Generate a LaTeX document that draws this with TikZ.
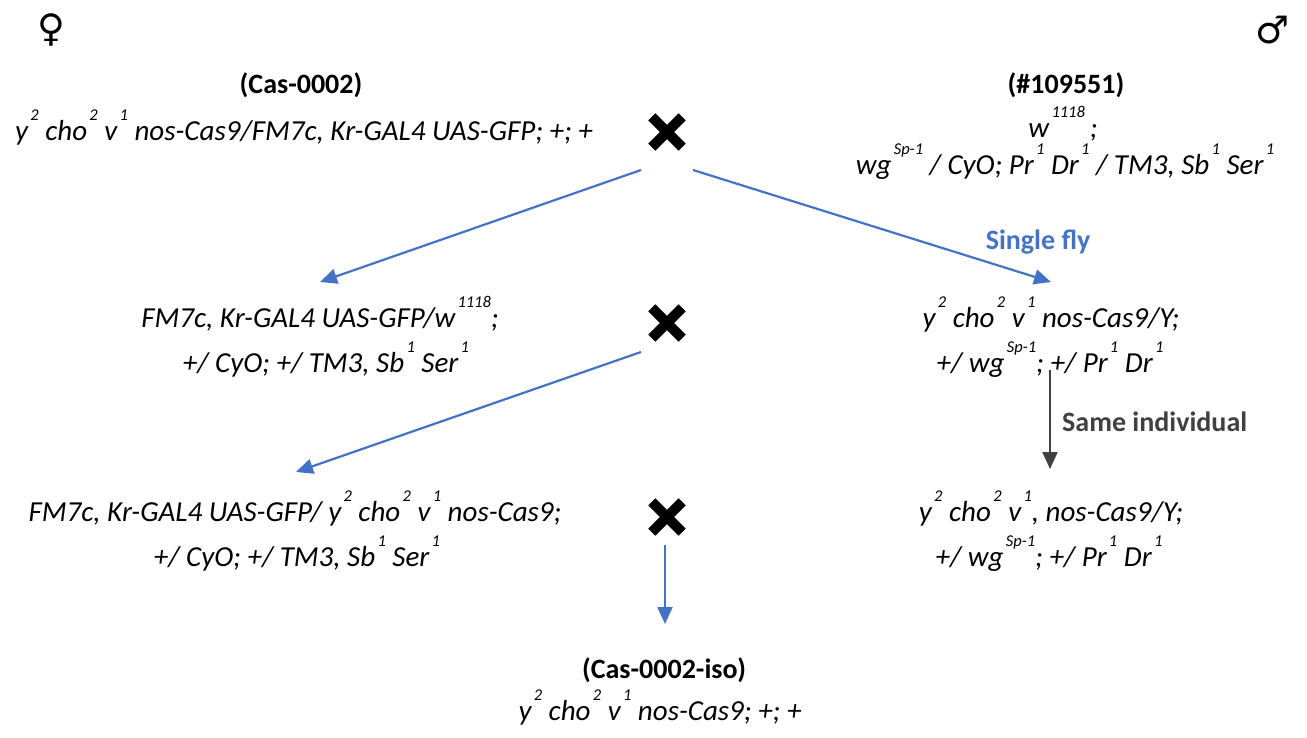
\documentclass[tikz,border=0pt]{standalone}
\usepackage{fontspec}
\setmainfont{Carlito}
\newfontfamily\symfont{DejaVu Sans}
\usetikzlibrary{arrows.meta}
\definecolor{flowblue}{HTML}{4472C4}
\definecolor{darkgrey}{HTML}{404040}
% raised allele superscript
\newcommand\spx[1]{\hspace{0.08em}\raisebox{0.68em}{\fontsize{16.5}{16.5}\selectfont #1}}
\tikzset{
  geno/.style={anchor=base, inner sep=0pt, font=\fontsize{29}{34}\selectfont\itshape},
  head/.style={anchor=base, inner sep=0pt, font=\fontsize{28}{34}\selectfont\bfseries},
  sexsym/.style={inner sep=0pt, font=\fontsize{38}{38}\selectfont\symfont},
  crossmark/.style={minimum width=30pt, minimum height=30pt, inner sep=0pt},
  crossline/.style={line width=10pt, line cap=butt},
  bluearrow/.style={flowblue, line width=2.2pt, -{Triangle[length=17pt,width=15pt]}},
  greyarrow/.style={darkgrey, line width=2.2pt, -{Triangle[length=17pt,width=15pt]}},
  armlabel/.style={anchor=base, inner sep=0pt, font=\fontsize{28}{34}\selectfont\bfseries},
}
\begin{document}
\begin{tikzpicture}[x=1pt, y=-1pt]
\useasboundingbox (0,0) rectangle (1307,737);

% sexes
\node[sexsym] (female) at (51,30) {♀};
\node[sexsym] (male) at (1273,30) {♂};

% parental female
\node[head] (fhead) at (301,93) {(Cas-0002)};
\node[geno] (fgeno) at (304,140) {y\spx{2} cho\spx{2} v\spx{1} nos-Cas9/FM7c, Kr-GAL4 UAS-GFP; +; +};

% parental male
\node[head] (mhead) at (1066,93) {(\#109551)};
\node[geno] (mgenoa) at (1063,137) {w\spx{1118}\,;};
\node[geno] (mgenob) at (1065,174) {wg\spx{Sp-1} / CyO; Pr\spx{1} Dr\spx{1} / TM3, Sb\spx{1} Ser\spx{1}};

% crosses
\node[crossmark] (cross1) at (667,132) {};
\node[crossmark] (cross2) at (667,323) {};
\node[crossmark] (cross3) at (667,517) {};
\foreach \c in {cross1,cross2,cross3}{
  \draw[crossline] (\c.south west) -- (\c.north east);
  \draw[crossline] (\c.north west) -- (\c.south east);
}

% F1 female
\node[geno] (lfa) at (320,327) {FM7c, Kr-GAL4 UAS-GFP/w\spx{1118};};
\node[geno] (lfb) at (326,372) {+/ CyO; +/ TM3, Sb\spx{1} Ser\spx{1}};

% F1 male
\node[geno] (rma) at (1051,327) {y\spx{2} cho\spx{2} v\spx{1} nos-Cas9/Y;};
\node[geno] (rmb) at (1050,372) {+/ wg\spx{Sp-1}; +/ Pr\spx{1} Dr\spx{1}};

% F2 female
\node[geno] (lsa) at (295,521) {FM7c, Kr-GAL4 UAS-GFP/ y\spx{2} cho\spx{2} v\spx{1} nos-Cas9;};
\node[geno] (lsb) at (297,566) {+/ CyO; +/ TM3, Sb\spx{1} Ser\spx{1}};

% same male, later
\node[geno] (rsa) at (1051,521) {y\spx{2} cho\spx{2} v\spx{1}, nos-Cas9/Y;};
\node[geno] (rsb) at (1049,566) {+/ wg\spx{Sp-1}; +/ Pr\spx{1} Dr\spx{1}};

% isogenised stock
\node[head] (ihead) at (664,678) {(Cas-0002-iso)};
\node[geno] (igeno) at (660,720) {y\spx{2} cho\spx{2} v\spx{1} nos-Cas9; +; +};

% arrow end points
\coordinate (c1l) at (641,170);
\coordinate (c1r) at (693,170);
\coordinate (c2l) at (641,352);
\coordinate (c3d) at (665,545);
\coordinate (f1in) at (320,282);
\coordinate (m1in) at (1051,282);
\coordinate (f2in) at (296,472);
\coordinate (isoin) at (665,624);
\coordinate (samefrom) at (1050,370);
\coordinate (sameto) at (1050,469);

\draw[bluearrow] (c1l) -- (f1in);
\draw[bluearrow] (c1r) -- (m1in);
\draw[bluearrow] (c2l) -- (f2in);
\draw[bluearrow] (c3d) -- (isoin);
\draw[greyarrow] (samefrom) -- (sameto);

\node[armlabel, text=flowblue] (single) at (1038,249) {Single fly};
\node[armlabel, text=darkgrey, anchor=base west] (same) at (1062,431) {Same individual};
\end{tikzpicture}
\end{document}
